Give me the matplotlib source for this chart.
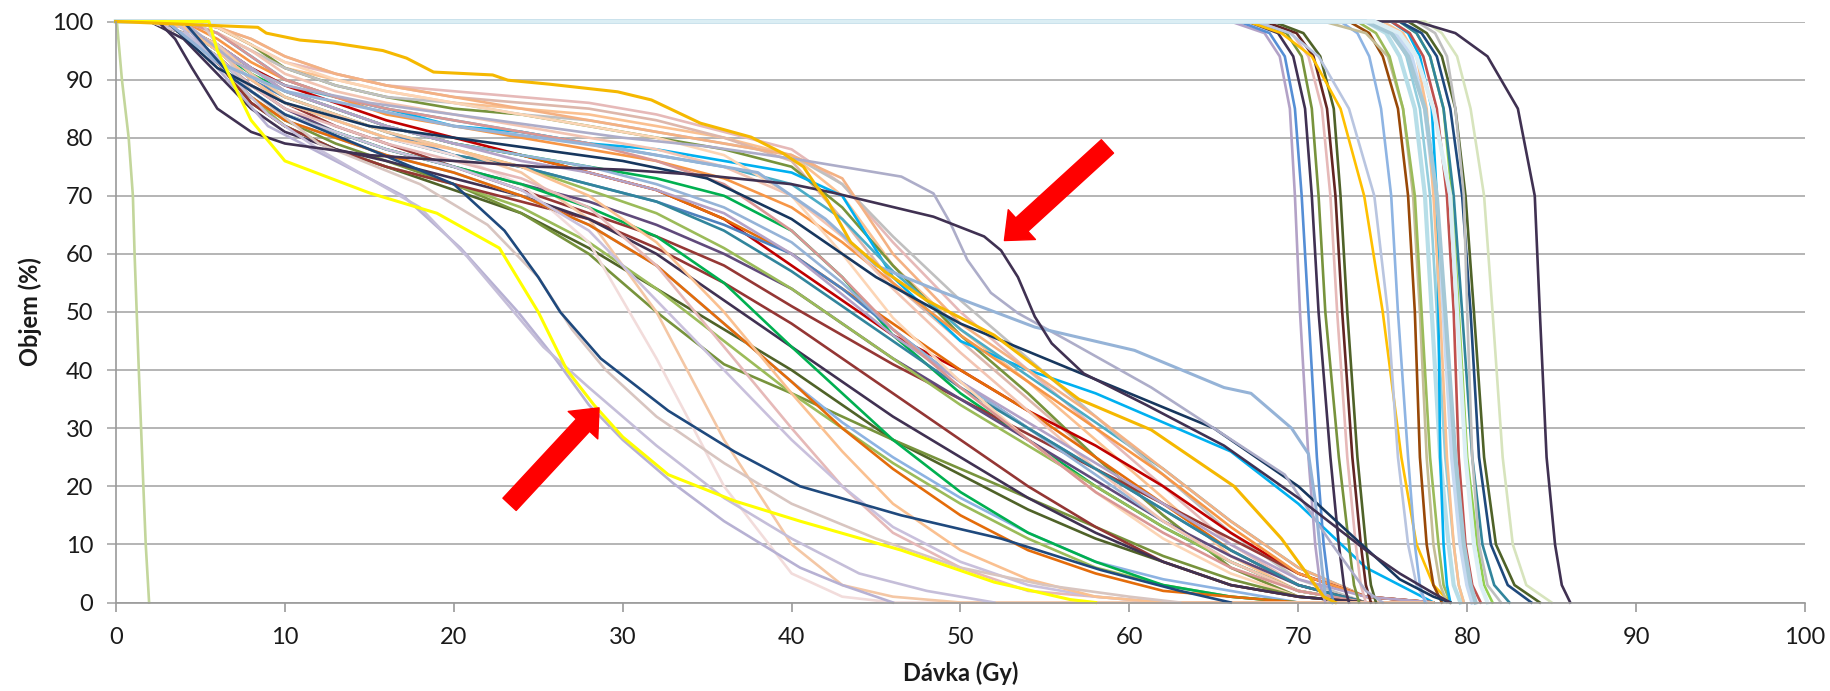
import matplotlib
matplotlib.use("Agg")
import matplotlib.pyplot as plt

# --- shared dose grid (Gy) for the organ-at-risk bundle ---
oar_dose = [0, 2, 4, 6, 8, 10, 13, 16, 20, 24, 28, 32, 36, 40, 43, 46, 50, 54, 58, 62, 66, 70, 74, 78]

# volume (%) of each bundle curve at oar_dose
oar_vol = {
    "U1": [100, 100, 100, 99, 96, 93, 91, 89, 88, 87, 86, 84, 81, 78, 72, 62, 50, 40, 30, 20, 10, 3, 0, 0],
    "U2": [100, 100, 100, 98, 95, 92, 90, 88, 86, 85, 84, 82, 80, 77, 70, 58, 47, 38, 28, 18, 8, 2, 0, 0],
    "U3": [100, 100, 100, 99, 97, 94, 91, 89, 87, 86, 85, 83, 80, 76, 66, 55, 45, 35, 25, 15, 6, 1, 0, 0],
    "U4": [100, 100, 100, 99, 96, 92, 89, 87, 85, 84, 82, 80, 78, 75, 68, 58, 46, 36, 25, 15, 6, 1, 0, 0],
    "U5": [100, 100, 100, 98, 94, 90, 87, 85, 82, 81, 79, 78, 76, 74, 70, 56, 45, 40, 36, 31, 26, 17, 6, 0],
    "U6": [100, 100, 99, 96, 92, 89, 87, 85, 83, 81, 79, 77, 75, 72, 66, 57, 47, 39, 31, 23, 14, 6, 1, 0],
    "U7": [100, 100, 100, 98, 95, 92, 89, 87, 86, 84, 83, 81, 79, 77, 72, 63, 52, 42, 32, 22, 12, 4, 0, 0],
    "U8": [100, 100, 100, 99, 97, 94, 91, 89, 87, 85, 83, 81, 79, 77, 73, 60, 48, 40, 32, 23, 14, 6, 1, 0],
    "M1": [100, 100, 99, 96, 92, 89, 86, 83, 80, 77, 74, 71, 66, 58, 52, 46, 40, 33, 27, 20, 12, 5, 1, 0],
    "M2": [100, 100, 99, 96, 92, 88, 85, 82, 79, 77, 74, 71, 66, 60, 54, 48, 40, 33, 25, 17, 9, 3, 0, 0],
    "M3": [100, 100, 99, 95, 91, 88, 85, 82, 79, 77, 75, 73, 70, 64, 56, 46, 36, 28, 20, 13, 7, 2, 0, 0],
    "M4": [100, 100, 99, 95, 90, 87, 84, 81, 77, 75, 72, 69, 65, 60, 54, 47, 38, 30, 23, 16, 9, 3, 0, 0],
    "M5": [100, 100, 98, 94, 89, 86, 82, 79, 75, 71, 67, 63, 58, 51, 46, 41, 35, 29, 23, 17, 11, 5, 1, 0],
    "M6": [100, 100, 98, 94, 89, 85, 81, 78, 75, 72, 69, 65, 60, 54, 48, 42, 35, 28, 21, 14, 8, 3, 0, 0],
    "M7": [100, 100, 99, 96, 92, 88, 85, 82, 79, 77, 75, 72, 68, 62, 55, 47, 38, 30, 22, 14, 7, 2, 0, 0],
    "M8": [100, 100, 100, 97, 93, 90, 87, 84, 82, 80, 78, 76, 73, 68, 62, 55, 46, 38, 30, 22, 13, 5, 1, 0],
    "M9": [100, 100, 99, 96, 91, 87, 84, 81, 78, 75, 71, 67, 61, 54, 48, 42, 34, 27, 20, 13, 7, 2, 0, 0],
    "M10": [100, 100, 100, 98, 95, 91, 88, 86, 84, 82, 80, 78, 75, 70, 63, 54, 43, 33, 23, 14, 7, 2, 0, 0],
    "M11": [100, 100, 99, 96, 92, 88, 85, 82, 79, 76, 74, 71, 67, 60, 53, 46, 38, 31, 24, 17, 10, 4, 1, 0],
    "M12": [100, 100, 99, 95, 90, 86, 83, 80, 77, 75, 72, 69, 64, 57, 51, 45, 37, 30, 23, 16, 9, 3, 0, 0],
    "M13": [100, 100, 100, 99, 96, 93, 90, 88, 86, 84, 82, 80, 77, 70, 60, 49, 38, 28, 19, 11, 5, 1, 0, 0],
    "M14": [100, 100, 100, 98, 94, 90, 87, 85, 83, 81, 79, 76, 72, 64, 56, 47, 37, 28, 19, 12, 6, 2, 0, 0],
    "L1": [100, 100, 98, 93, 86, 82, 78, 75, 71, 67, 61, 54, 47, 40, 34, 28, 22, 16, 11, 7, 3, 1, 0, 0],
    "L2": [100, 100, 98, 93, 87, 83, 79, 76, 72, 67, 60, 50, 41, 36, 32, 28, 23, 18, 13, 8, 4, 1, 0, 0],
    "L3": [100, 100, 98, 93, 87, 82, 78, 75, 72, 68, 62, 54, 45, 36, 30, 24, 17, 11, 6, 3, 1, 0, 0, 0],
    "L4": [100, 100, 98, 93, 86, 82, 78, 75, 72, 69, 66, 61, 55, 48, 42, 36, 28, 20, 13, 7, 3, 1, 0, 0],
    "L5": [100, 100, 99, 95, 90, 86, 83, 80, 77, 72, 62, 42, 20, 5, 1, 0, 0, 0, 0, 0, 0, 0, 0, 0],
    "L6": [100, 100, 99, 96, 91, 87, 84, 81, 78, 74, 66, 50, 28, 10, 3, 1, 0, 0, 0, 0, 0, 0, 0, 0],
    "L7": [100, 100, 97, 91, 85, 81, 78, 76, 73, 70, 66, 60, 52, 44, 38, 32, 25, 18, 12, 7, 3, 1, 0, 0],
    "L8": [100, 100, 98, 93, 87, 83, 80, 77, 74, 70, 65, 58, 48, 38, 31, 25, 18, 12, 7, 4, 2, 0, 0, 0],
    "L9": [100, 100, 98, 94, 88, 84, 81, 78, 75, 72, 68, 63, 55, 44, 36, 28, 19, 12, 7, 3, 1, 0, 0, 0],
    "L10": [100, 100, 98, 93, 87, 83, 80, 77, 74, 70, 65, 58, 48, 38, 30, 23, 15, 9, 5, 2, 1, 0, 0, 0],
    "L11": [100, 100, 98, 94, 89, 85, 82, 79, 76, 73, 68, 58, 44, 30, 20, 12, 6, 2, 1, 0, 0, 0, 0, 0],
    "L12": [100, 100, 98, 94, 88, 84, 81, 78, 75, 71, 64, 52, 40, 28, 20, 13, 7, 3, 1, 0, 0, 0, 0, 0],
    "L13": [100, 100, 99, 95, 90, 86, 83, 80, 78, 75, 70, 62, 50, 36, 26, 17, 9, 4, 1, 0, 0, 0, 0, 0],
}
oar_colors = {
    "U1": "#E6B9B8", "U2": "#FAC090", "U3": "#DDB7AB", "U4": "#77933C", "U5": "#00B0F0",
    "U6": "#4BACC6", "U7": "#C0C0C0", "U8": "#F4B183",
    "M1": "#C00000", "M2": "#E46C0A", "M3": "#00B050", "M4": "#4F81BD", "M5": "#953735",
    "M6": "#604A7B", "M7": "#95B3D7", "M8": "#F79646", "M9": "#9BBB59", "M10": "#F2C4B2",
    "M11": "#B3A2C7", "M12": "#31859C", "M13": "#FCD5B5", "M14": "#D99694",
    "L1": "#4F6228", "L2": "#77933C", "L3": "#9BBB59", "L4": "#943634", "L5": "#F2DCDB",
    "L6": "#F4C7A5", "L7": "#403152", "L8": "#8DB3E2", "L9": "#00B050", "L10": "#E46C0A",
    "L11": "#E6B9B8", "L12": "#C9C0DC", "L13": "#FAC090",
}

# --- target volumes: dose (Gy) read at fixed volume levels ---
ptv_vol = [100, 98, 94, 85, 70, 50, 25, 10, 3, 0]
ptv_dose = {
    "P1": [66.0, 68.0, 68.9, 69.5, 69.8, 70.1, 70.6, 71.0, 71.3, 71.6],
    "P2": [66.5, 68.3, 69.2, 69.8, 70.2, 70.6, 71.1, 71.5, 71.8, 72.1],
    "P3": [67.0, 68.8, 69.7, 70.4, 70.8, 71.2, 71.9, 72.4, 72.7, 73.0],
    "P4": [67.5, 69.3, 70.2, 70.8, 71.2, 71.6, 72.4, 73.0, 73.3, 73.6],
    "P5": [67.5, 69.6, 70.6, 71.4, 71.9, 72.3, 72.9, 73.4, 73.7, 74.0],
    "P6": [68.0, 69.9, 70.9, 71.7, 72.2, 72.6, 73.2, 73.7, 74.0, 74.3],
    "P7": [68.5, 70.3, 71.3, 72.1, 72.5, 72.9, 73.5, 74.0, 74.3, 74.6],
    "P8": [67.0, 69.0, 70.8, 72.5, 73.9, 75.0, 76.1, 77.0, 78.0, 79.0],
    "P9": [67.5, 69.5, 71.2, 73.0, 74.5, 75.3, 75.9, 76.5, 77.0, 77.6],
    "P10": [72.5, 73.5, 74.2, 74.9, 75.5, 75.9, 76.5, 76.9, 77.2, 77.5],
    "P11": [73.0, 74.2, 75.0, 75.9, 76.5, 76.9, 77.2, 77.6, 78.0, 78.5],
    "P12": [71.5, 74.0, 75.3, 76.2, 76.8, 77.2, 77.6, 78.0, 78.4, 78.8],
    "P13": [73.5, 74.6, 75.4, 76.2, 76.9, 77.3, 77.8, 78.3, 78.6, 79.0],
    "P14": [74.0, 75.2, 76.0, 76.9, 77.5, 77.9, 78.4, 78.9, 79.2, 79.6],
    "P15": [74.5, 75.6, 76.4, 77.2, 77.8, 78.2, 78.7, 79.2, 79.5, 79.8],
    "P16": [74.5, 75.8, 76.7, 77.5, 78.1, 78.6, 79.1, 79.6, 80.0, 80.3],
    "P17": [75.5, 76.5, 77.2, 77.9, 78.2, 78.3, 78.4, 78.6, 78.8, 79.0],
    "P18": [75.0, 76.2, 77.0, 77.6, 78.0, 78.4, 78.8, 79.2, 79.5, 79.8],
    "P19": [75.5, 76.6, 77.4, 78.2, 78.8, 79.2, 79.5, 79.9, 80.3, 80.8],
    "P20": [76.0, 77.0, 77.8, 78.6, 79.1, 79.5, 80.0, 80.6, 81.0, 81.5],
    "P21": [76.0, 77.0, 77.8, 78.6, 79.2, 79.7, 80.3, 80.9, 81.6, 82.5],
    "P22": [76.0, 77.3, 78.2, 79.0, 79.7, 80.2, 80.7, 81.4, 82.4, 83.8],
    "P23": [76.5, 77.6, 78.5, 79.3, 79.9, 80.4, 81.0, 81.7, 82.8, 84.3],
    "P24": [77.0, 78.1, 78.8, 79.3, 79.8, 80.0, 80.3, 80.7, 81.2, 82.0],
    "P25": [77.5, 78.5, 79.4, 80.2, 81.0, 81.5, 82.1, 82.7, 83.5, 85.0],
    "P26": [77.0, 79.3, 81.2, 83.0, 84.0, 84.3, 84.7, 85.2, 85.6, 86.1],
    "P27": [74.0, 75.5, 76.5, 77.5, 78.2, 78.7, 79.3, 79.8, 80.2, 80.5],
    "P28": [74.5, 76.0, 77.0, 78.0, 79.0, 79.4, 79.9, 80.4, 80.8, 81.2],
}
ptv_colors = {
    "P1": "#B3A2C7", "P2": "#558ED5", "P3": "#403152", "P4": "#77933C", "P5": "#E6B9B8",
    "P6": "#632523", "P7": "#4F6228", "P8": "#FFC000", "P9": "#B9C5E0", "P10": "#8EB4E3",
    "P11": "#984807", "P12": "#C4BD97", "P13": "#9BBB59", "P14": "#B7DEE8", "P15": "#93CDDD",
    "P16": "#C6D9F1", "P17": "#00B0F0", "P18": "#FAC090", "P19": "#C0504D", "P20": "#92D050",
    "P21": "#31859C", "P22": "#1F497D", "P23": "#4F6228", "P24": "#BFBFBF", "P25": "#D7E4BD",
    "P26": "#403152", "P27": "#A5C8D6", "P28": "#DBEEF4",
}

# --- individually read curves ---
green_dose = [0.05, 0.35, 0.75, 1.0, 1.1, 1.35, 1.62, 1.76, 1.96]
green_vol = [100, 90, 80, 70, 60, 40, 20, 10, 0]

gold_dose = [0, 8.4, 8.9, 10.9, 12.9, 15.8, 17.2, 18.8, 22.3, 23.2, 25.7, 29.7, 31.7, 34.6, 37.6,
             39.5, 40.7, 41.5, 42.1, 43.5, 45.5, 48, 52, 57, 61.3, 66.2, 69, 71.5, 72.2]
gold_vol = [100, 99, 98, 96.8, 96.3, 95, 93.7, 91.3, 90.8, 89.9, 89.2, 87.9, 86.5, 82.5, 80.1,
            77.3, 75, 71.5, 69.3, 62, 57, 52, 46, 35, 29.7, 20, 11, 1, 0]

yellow_dose = [0, 5.5, 6, 8, 10, 15, 19, 22.7, 25, 26.7, 28.3, 30, 32.7, 36.6, 40.5, 46.5, 52, 56.5, 58]
yellow_vol = [100, 100, 95, 83, 76, 70.5, 67, 61, 50, 40, 34, 28.5, 22, 17.5, 14, 9, 3.5, 0.5, 0]

lilac_a_dose = [0, 4, 6, 9, 13, 17, 20.4, 23.8, 26, 28, 30, 33, 36, 40.5, 43, 45, 46]
lilac_a_vol = [100, 100, 92, 82, 76, 70, 61, 50, 42, 34, 28, 20.5, 14, 6, 3, 1, 0]

lilac_b_dose = [0, 3.5, 6, 9, 12, 15, 18, 20.8, 25.3, 28, 32, 36, 40, 44, 48, 52]
lilac_b_vol = [100, 100, 93, 84, 78, 73, 68, 59.5, 44, 37, 27, 18, 11, 5, 2, 0]

rosy_dose = [0, 5, 8, 12, 18, 22, 25, 27, 29, 32, 36, 40, 45, 50, 55, 60, 63]
rosy_vol = [100, 100, 88, 79, 72, 65, 56, 47, 40, 32, 24, 17, 11, 6, 3, 1, 0]

navy_low_dose = [0, 4, 7, 10, 15, 20, 23, 25, 26.3, 28.7, 32.7, 36.6, 40.5, 46.5, 52.4, 58.3, 63, 66]
navy_low_vol = [100, 100, 90, 84, 78, 72, 64, 56, 50, 42, 33, 26, 20, 15, 11, 5.6, 2, 0]

navy_mid_dose = [0, 3, 6, 10, 15, 20, 25, 30, 35, 40, 45, 50, 55, 60, 65, 70, 73, 76, 78, 79]
navy_mid_vol = [100, 100, 92, 86, 82, 80, 78, 76, 73, 66, 56, 48, 42, 36, 30, 20, 12, 4, 1, 0]

arrow_curve_dose = [0, 2.5, 3.5, 4.5, 6, 8, 10, 15, 20, 25, 30, 35, 40, 42.5, 48.4, 51.4, 52.4,
                    53.4, 54.4, 55.4, 57.3, 61, 65.6, 70, 74, 76, 78, 79]
arrow_curve_vol = [100, 100, 97, 92, 85, 81, 79, 77, 76, 75, 74.5, 73.5, 72, 70.5, 66.4, 63, 60.6,
                   56, 49.2, 44.6, 39.4, 34, 27, 18, 9, 5, 1.6, 0]

grey_lilac_dose = [0, 4, 7, 10, 15, 20, 25, 30, 35, 40.5, 46.5, 48.4, 49.4, 50.4, 51.8, 53.4,
                   56.4, 61.3, 65, 69.2, 72, 74, 75]
grey_lilac_vol = [100, 100, 93, 89, 86, 84, 82, 80, 78.5, 76.2, 73.3, 70.4, 65.3, 59, 53.3, 49.8,
                  45, 37, 30, 22, 10, 2, 0]

sky_dose = [0, 3, 6, 10, 20, 30, 38, 42, 45, 48.4, 54.4, 60.3, 65.6, 67.2, 69.6, 70.6, 71, 71.4, 71.6, 72]
sky_vol = [100, 100, 93, 88, 82, 78, 74, 66, 58, 54, 47.4, 43.4, 37, 36, 30, 25.6, 17.6, 6, 1, 0]

# --- annotation arrows (tail -> tip, in Gy / %) ---
arrow_tails = [(58.7, 78.5), (23.3, 16.9)]
arrow_tips = [(52.6, 62.3), (28.6, 33.5)]

x_ticks = list(range(0, 101, 10))
y_ticks = list(range(0, 101, 10))

plt.rcParams["font.family"] = ["Lato", "DejaVu Sans"]

fig = plt.figure(figsize=(18.31, 6.91), dpi=100)
ax = fig.add_axes([116 / 1831, 1 - 602.5 / 691, 1689 / 1831, 581 / 691])

lw = 1.9
for key, vols in oar_vol.items():
    ax.plot(oar_dose, vols, color=oar_colors[key], lw=lw, clip_on=False, solid_capstyle="round")

for key, doses in ptv_dose.items():
    thick = 3.0 if ptv_colors[key] in ("#B7DEE8", "#A5C8D6", "#DBEEF4", "#C6D9F1") else lw
    ax.plot([0] + doses, [100] + ptv_vol, color=ptv_colors[key], lw=thick, clip_on=False)

ax.plot(green_dose, green_vol, color="#C3D69B", lw=lw, clip_on=False)
ax.plot(lilac_a_dose, lilac_a_vol, color="#B7B1D3", lw=lw, clip_on=False)
ax.plot(lilac_b_dose, lilac_b_vol, color="#C5BED9", lw=lw, clip_on=False)
ax.plot(rosy_dose, rosy_vol, color="#D8C5C0", lw=lw, clip_on=False)
ax.plot(navy_mid_dose, navy_mid_vol, color="#17375E", lw=lw, clip_on=False)
ax.plot(grey_lilac_dose, grey_lilac_vol, color="#ADADC9", lw=lw, clip_on=False)
ax.plot(sky_dose, sky_vol, color="#95B3D7", lw=2.2, clip_on=False)
ax.plot(navy_low_dose, navy_low_vol, color="#1F497D", lw=lw, clip_on=False)
ax.plot(arrow_curve_dose, arrow_curve_vol, color="#403152", lw=lw, clip_on=False)
ax.plot(yellow_dose, yellow_vol, color="#FFFF00", lw=2.2, clip_on=False)
ax.plot(gold_dose, gold_vol, color="#F5B800", lw=2.2, clip_on=False)

for tail, tip in zip(arrow_tails, arrow_tips):
    ax.annotate("", xy=tip, xytext=tail, zorder=10,
                arrowprops=dict(arrowstyle="simple,head_length=0.85,head_width=1.45,tail_width=0.65",
                                color="#FF0000", mutation_scale=20, shrinkA=0, shrinkB=0))

ax.set_xlim(0, 100)
ax.set_ylim(0, 100)
ax.set_xticks(x_ticks)
ax.set_yticks(y_ticks)
ax.grid(axis="y", color="#B4B4B4", lw=1.4, zorder=0)
ax.set_axisbelow(True)
for side in ("top", "right"):
    ax.spines[side].set_visible(False)
for side in ("left", "bottom"):
    ax.spines[side].set_color("#9A9A9A")
    ax.spines[side].set_linewidth(1.2)
ax.tick_params(axis="x", length=6.5, width=1.2, color="#9A9A9A", pad=11, labelsize=17, labelcolor="#1A1A1A")
ax.tick_params(axis="y", length=6.5, width=1.4, color="#B4B4B4", pad=10, labelsize=17, labelcolor="#1A1A1A")

ax.set_xlabel("Dávka (Gy)", fontsize=17, fontweight="bold", labelpad=10, color="#1A1A1A")
ax.set_ylabel("Objem (%)", fontsize=17, fontweight="bold", labelpad=7, color="#1A1A1A")

fig.savefig("out.png", dpi=100, facecolor="white")
